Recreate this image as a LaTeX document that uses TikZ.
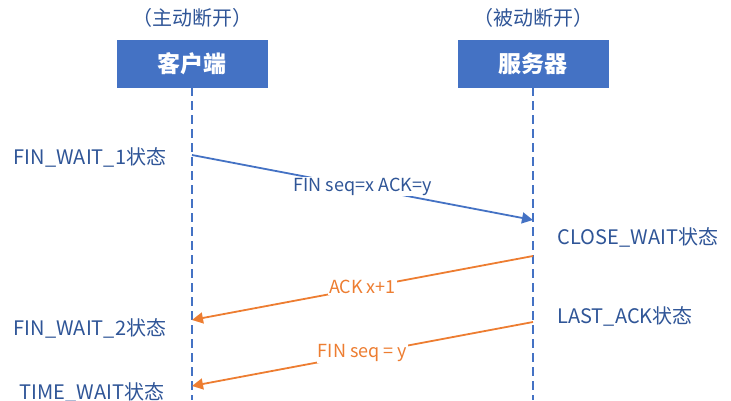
\documentclass[tikz,border=0pt]{standalone}
\usepackage{fontspec}
\setmainfont{Noto Sans CJK SC}
\usetikzlibrary{arrows.meta}
\definecolor{msblue}{HTML}{4472C4}
\definecolor{msorange}{HTML}{ED7D31}
\definecolor{txtblue}{HTML}{2F5597}
\tikzstyle{role}=[draw=msblue,fill=msblue,text=white,minimum width=150pt,minimum height=47pt,font=\fontsize{23}{26}\selectfont\bfseries]
\tikzstyle{state}=[text=txtblue,font=\fontsize{20}{24}\selectfont]
\tikzstyle{life}=[draw=msblue,dash pattern=on 9pt off 5pt,line width=1.8pt]
\tikzstyle{msg}=[draw,-{Triangle[length=11pt,width=11pt]},line width=1.8pt]
\tikzstyle{lbl}=[state,fill=white,inner sep=1pt,font=\fontsize{18}{21}\selectfont]
\begin{document}
\begin{tikzpicture}[x=1pt,y=-1pt]
\useasboundingbox (0,0) rectangle (731,400);
\node[role] (client) at (192,63.5) {客户端};
\node[role] (server) at (533,63.5) {服务器};
\node[state] (hc) at (192,18) {（主动断开）};
\node[state] (hs) at (533,18) {（被动断开）};
\coordinate (cend) at (192,400);
\coordinate (send) at (533,400);
\draw[life] (client) -- (cend);
\draw[life] (server) -- (send);

\coordinate (c1) at (192,155);
\coordinate (s1) at (533,220);
\coordinate (s2) at (533,256);
\coordinate (c2) at (192,320);
\coordinate (s3) at (533,322);
\coordinate (c3) at (192,386);

\draw[msg,msblue] (c1) -- node[lbl,pos=0.5,yshift=1pt] {FIN seq=x ACK=y} (s1);
\draw[msg,msorange] (s2) -- node[lbl,text=msorange,pos=0.5,yshift=1pt] {ACK x+1} (c2);
\draw[msg,msorange] (s3) -- node[lbl,text=msorange,pos=0.5,yshift=1pt] {FIN seq = y} (c3);

\node[state] (fw1) at (90,157) {FIN\_WAIT\_1状态};
\node[state] (fw2) at (90,328) {FIN\_WAIT\_2状态};
\node[state] (tw) at (92,392) {TIME\_WAIT状态};
\node[state] (cw) at (638,237) {CLOSE\_WAIT状态};
\node[state] (la) at (625,316) {LAST\_ACK状态};
\end{tikzpicture}
\end{document}
